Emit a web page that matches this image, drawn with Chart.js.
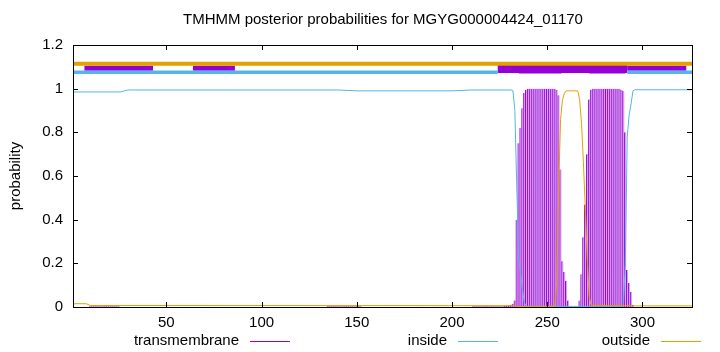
<!DOCTYPE html>
<html>
<head>
<meta charset="utf-8">
<script src="https://cdn.jsdelivr.net/npm/chart.js@4.4.0/dist/chart.umd.min.js"></script>
<style>
  html, body { margin: 0; padding: 0; background: #fff; }
  #wrap { width: 720px; height: 352px; }
</style>
</head>
<body>
<div id="wrap"><canvas id="c" width="720" height="352"></canvas></div>
<script>
// ─────────────────────────────────────────
// DATA
// ─────────────────────────────────────────
const TITLE = 'TMHMM posterior probabilities for MGYG000004424_01170';
const SEQ_START = 1;
const SEQ_END = 326;
const xTicks = [50, 100, 150, 200, 250, 300];
const yTicks = [0, 0.2, 0.4, 0.6, 0.8, 1, 1.2];
const legendLabels = ['transmembrane', 'inside', 'outside'];

// transmembrane posterior, drawn as impulses (residue -> probability)
const tmPos = [
  10, 11, 12, 13, 14, 15, 16, 17, 18, 19, 20, 21, 22, 23, 24, 25,
  135, 136, 137, 138, 139, 140, 141, 142, 143, 144, 145, 146, 147, 148, 149, 150, 151, 152,
  211, 212, 213, 214, 215, 216, 217, 218, 219, 220, 221, 222, 223, 224, 225, 226, 227, 228, 229, 230, 231, 232,
  233, 234, 235, 236, 237, 238, 239, 240, 241, 242, 243, 244, 245, 246, 247, 248, 249, 250,
  251, 252, 253, 254, 255, 256, 257, 258, 259, 260, 261,
  267, 268, 269, 270, 271, 272, 273, 274, 275, 276, 277, 278, 279, 280, 281, 282, 283, 284,
  285, 286, 287, 288, 289, 290, 291, 292, 293, 294, 295,
];
const tmProb = [
  0.003, 0.003, 0.003, 0.003, 0.003, 0.003, 0.003, 0.003, 0.003, 0.003, 0.003, 0.003, 0.003, 0.003, 0.003, 0.003,
  0.003, 0.003, 0.003, 0.003, 0.003, 0.003, 0.003, 0.003, 0.003, 0.003, 0.003, 0.003, 0.003, 0.003, 0.003, 0.003, 0.003, 0.003,
  0.003, 0.003, 0.003, 0.003, 0.003, 0.003, 0.003, 0.003, 0.003, 0.003, 0.003, 0.003, 0.003, 0.003, 0.003, 0.003, 0.004, 0.005, 0.006, 0.008, 0.01, 0.015,
  0.03, 0.40, 0.75, 0.82, 0.91, 0.98, 0.995, 1, 1, 1, 1, 1, 1, 1, 1, 1, 1, 1,
  1, 1, 1, 1, 0.995, 0.97, 0.63, 0.21, 0.16, 0.12, 0.03,
  0.03, 0.15, 0.32, 0.47, 0.70, 0.95, 0.995, 1, 1, 1, 1, 1, 1, 1, 1, 1, 1, 1,
  1, 1, 1, 1, 0.995, 0.99, 0.80, 0.17, 0.11, 0.07, 0.01,
];

// inside posterior (breakpoints of the curve)
const insidePos  = [1, 26, 28, 30, 140, 150, 200, 210, 231, 232, 233, 234, 235, 236, 237, 238, 239, 289, 290, 291, 292, 293, 294, 295, 296, 326];
const insideProb = [0.985, 0.985, 0.99, 0.994, 0.994, 0.99, 0.99, 0.994, 0.994, 0.99, 0.9, 0.55, 0.22, 0.15, 0.08, 0.02, 0.003, 0.003, 0.01, 0.2, 0.78, 0.88, 0.93, 0.99, 0.995, 0.995];

// outside posterior (breakpoints of the curve)
const outsidePos  = [1, 8, 10, 232, 234, 254, 255, 256, 257, 258, 259, 260, 266, 267, 268, 269, 270, 271, 272, 273, 295, 326];
const outsideProb = [0.015, 0.015, 0.007, 0.006, 0.002, 0.004, 0.12, 0.55, 0.86, 0.95, 0.98, 0.99, 0.99, 0.95, 0.84, 0.66, 0.45, 0.22, 0.05, 0.008, 0.005, 0.005];

// predicted topology strip above the curves: [start, end] residues
const outsideBand  = [[1, 326]];
const insideBand   = [[1, 224], [292, 326]];
const tmBandThin   = [[7, 43], [64, 86], [292, 323]];
const tmBandWide   = [[224, 292]];
const tmBandThick  = [[235, 257.5], [272, 291]];

// ─────────────────────────────────────────
// STYLE
// ─────────────────────────────────────────
const C_TM = '#9400d3';
const C_TM_LIGHT = '#d9a3f2';
const C_IN = '#56b4e9';
const C_OUT = '#e69f00';
const FONT = "'Liberation Sans', Arial, sans-serif";
const FS = 15;
const BAND_Y = { outside: 1.114, inside: 1.075, tmThin: 1.093, tmWide: 1.090, tmThick: 1.096 };

// ─────────────────────────────────────────
// BUILD DATASETS
// ─────────────────────────────────────────
const pts = (xs, ys) => xs.map((x, i) => ({ x, y: ys[i] }));

function bandSets(segs, y, color, width) {
  return segs.map(([a, b]) => ({
    type: 'line',
    data: [{ x: a, y }, { x: b, y }],
    borderColor: color,
    borderWidth: width,
    borderCapStyle: 'butt',
    pointRadius: 0,
    fill: false,
    order: 0,
  }));
}

const datasets = [
  {
    type: 'bar',
    label: legendLabels[0],
    data: pts(tmPos, tmProb),
    backgroundColor: C_TM_LIGHT,
    borderColor: C_TM,
    borderWidth: { left: 1, right: 0, top: 0, bottom: 0 },
    borderSkipped: false,
    barThickness: 1.9,
    order: 3,
  },
  {
    type: 'line',
    label: legendLabels[1],
    data: pts(insidePos, insideProb),
    borderColor: C_IN,
    borderWidth: 1,
    pointRadius: 0,
    tension: 0,
    order: 2,
  },
  {
    type: 'line',
    label: legendLabels[2],
    data: pts(outsidePos, outsideProb),
    borderColor: C_OUT,
    borderWidth: 1,
    pointRadius: 0,
    tension: 0,
    order: 1,
  },
  ...bandSets(outsideBand, BAND_Y.outside, C_OUT, 4),
  ...bandSets(insideBand, BAND_Y.inside, C_IN, 3.5),
  ...bandSets(tmBandThin, BAND_Y.tmThin, C_TM, 5),
  ...bandSets(tmBandWide, BAND_Y.tmWide, C_TM, 8),
  ...bandSets(tmBandThick, BAND_Y.tmThick, C_TM, 11.5),
];

// ─────────────────────────────────────────
// DECORATIONS — frame, inward ticks, titles, legend
// ─────────────────────────────────────────
const decor = {
  id: 'decor',
  afterDatasetsDraw(chart) {
    const { ctx, chartArea: a, scales: { x, y } } = chart;
    ctx.save();
    ctx.strokeStyle = '#000';
    ctx.lineWidth = 1;
    ctx.beginPath();
    const T = 5;
    xTicks.forEach(v => {
      const px = Math.round(x.getPixelForValue(v)) + 0.5;
      ctx.moveTo(px, a.bottom); ctx.lineTo(px, a.bottom - T);
      ctx.moveTo(px, a.top); ctx.lineTo(px, a.top + T);
    });
    yTicks.forEach(v => {
      const py = Math.round(y.getPixelForValue(v)) + 0.5;
      ctx.moveTo(a.left, py); ctx.lineTo(a.left + T, py);
      ctx.moveTo(a.right, py); ctx.lineTo(a.right - T, py);
    });
    ctx.stroke();
    ctx.strokeRect(Math.round(a.left) + 0.5, Math.round(a.top) + 0.5,
      Math.round(a.right - a.left), Math.round(a.bottom - a.top));

    ctx.fillStyle = '#000';
    ctx.font = `${FS}px ${FONT}`;
    ctx.textAlign = 'center';
    ctx.textBaseline = 'middle';
    ctx.fillText(TITLE, 383, 20);

    ctx.save();
    ctx.translate(16, (a.top + a.bottom) / 2);
    ctx.rotate(-Math.PI / 2);
    ctx.fillText('probability', 0, 0);
    ctx.restore();

    // gnuplot style key: label, then line sample
    const keyX = [239, 447, 650];
    const colors = [C_TM, C_IN, C_OUT];
    ctx.textAlign = 'right';
    legendLabels.forEach((lab, i) => {
      ctx.fillStyle = '#000';
      ctx.fillText(lab, keyX[i], 341);
      ctx.strokeStyle = colors[i];
      ctx.beginPath();
      ctx.moveTo(keyX[i] + 11, 341.5);
      ctx.lineTo(keyX[i] + 51, 341.5);
      ctx.stroke();
    });
    ctx.restore();
  },
};

new Chart(document.getElementById('c'), {
  data: { datasets },
  options: {
    responsive: false,
    animation: false,
    events: [],
    layout: { padding: { top: 45, right: 28, left: 0, bottom: 0 } },
    plugins: { legend: { display: false }, tooltip: { enabled: false } },
    scales: {
      x: {
        type: 'linear',
        min: SEQ_START,
        max: SEQ_END,
        offset: false,
        afterFit: s => { s.height = 45; },
        afterBuildTicks: s => { s.ticks = xTicks.map(v => ({ value: v })); },
        grid: { display: false, drawTicks: false },
        border: { display: false },
        ticks: { color: '#000', font: { family: FONT, size: FS }, padding: 7, maxRotation: 0 },
      },
      y: {
        min: 0,
        max: 1.2,
        afterFit: s => { s.width = 73; },
        afterBuildTicks: s => { s.ticks = yTicks.map(v => ({ value: v })); },
        grid: { display: false, drawTicks: false },
        border: { display: false },
        ticks: { color: '#000', font: { family: FONT, size: FS }, padding: 10, callback: v => String(v) },
      },
    },
  },
  plugins: [decor],
});
</script>
</body>
</html>
